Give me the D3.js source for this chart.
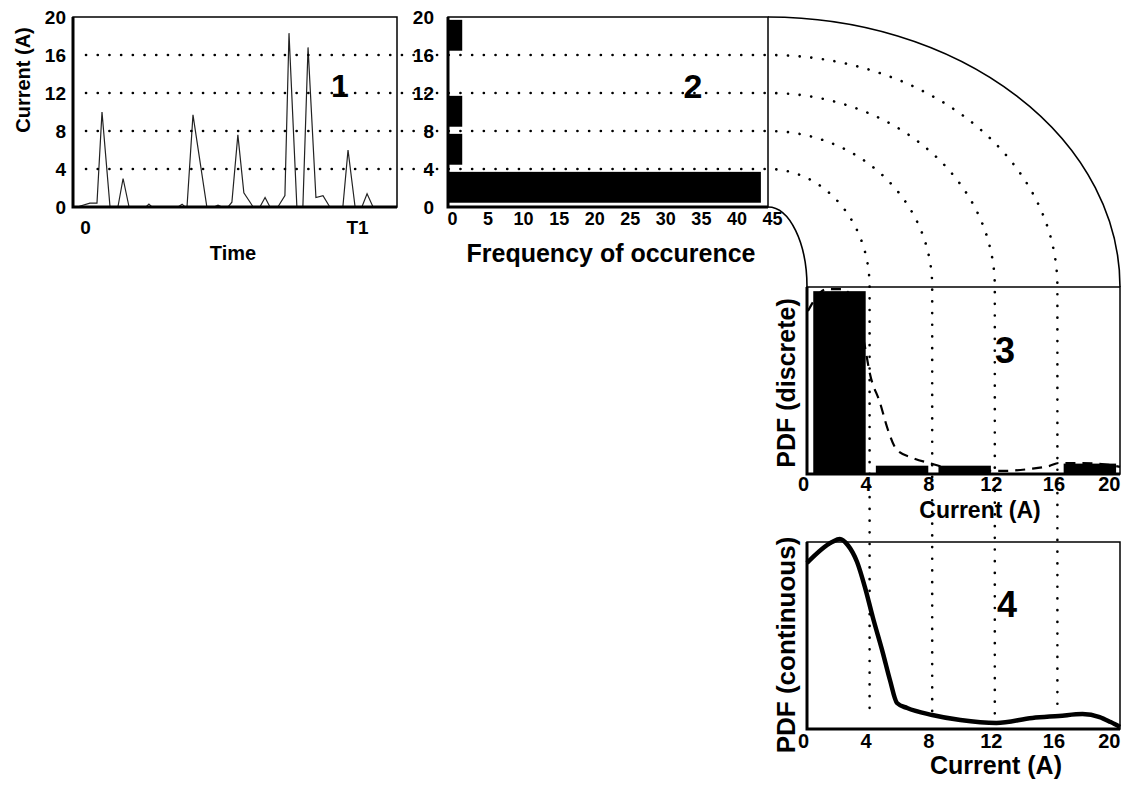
<!DOCTYPE html>
<html>
<head>
<meta charset="utf-8">
<script src="https://cdn.jsdelivr.net/npm/d3@7"></script>
<style>
  body { margin: 0; background: #fff; }
  svg { display: block; font-family: 'Liberation Sans', Arial, sans-serif; }
  .axis text { font-weight: bold; fill: #000; }
  .lbl { font-weight: bold; fill: #000; }
</style>
</head>
<body>
<svg width="1122" height="786"></svg>
<script>
// panel 1: current trace over time (T1 = 100)
const timeT = [-2.9, 1.8, 4.4, 6.25, 9.2, 12.1, 14.0, 16.2, 22.4, 23.5, 24.6, 34.2, 35.7, 36.8, 37.5,
  39.7, 44.8, 47.4, 48.9, 50.4, 52.6, 54.0, 56.2, 58.4, 60.7, 61.8, 64.3, 66.2, 68.0, 70.9, 73.5,
  75.0, 77.9, 80.1, 82.0, 84.9, 87.5, 90.0, 94.8, 96.7, 99.3, 101.8, 103.7, 105.9, 114]
const currentA = [0, 0.4, 0.4, 10, 0, 0, 3, 0, 0, 0.3, 0, 0, 0.3, 0, 0,
  9.7, 0, 0, 0.2, 0, 0, 0.5, 7.6, 1.5, 0.5, 0, 0, 1, 0, 0, 1.2,
  18.3, 0, 0, 16.8, 1, 1.2, 0, 0, 6, 0, 0, 1.4, 0, 0]

const currentTicks = [0, 4, 8, 12, 16, 20]
const gridLevels = [4, 8, 12, 16]
const freqTicks = [0, 5, 10, 15, 20, 25, 30, 35, 40, 45]

// panel 2 / 3: histogram bins
const binStart = [0, 4, 8, 12, 16]
const binCounts = [44, 2, 2, 0, 2]
const pdfDiscrete = [0.88, 0.04, 0.04, 0, 0.05]

// panel 3 dashed fit
const dashX = [0.06, 0.38, 1.28, 2.3, 3.0, 3.7, 4.0, 4.66, 5.17, 5.74, 6.76, 8.04, 8.7, 12.5, 14.2, 15.5, 16.1, 17.6, 19.3, 20]
const dashPdf = [0.784, 0.827, 0.89, 0.89, 0.82, 0.614, 0.489, 0.344, 0.213, 0.116, 0.077, 0.048, 0.034, 0.015, 0.024, 0.039, 0.053, 0.053, 0.044, 0.034]

// panel 4 continuous pdf
const contX = [0, 1.6, 2.1, 2.6, 3.2, 3.7, 4.2, 4.85, 5.3, 5.75, 6.4, 8.0, 9.8, 12.1, 14.4, 16.1, 17.6, 18.7, 19.4, 20]
const contPdf = [0.888, 1.0, 1.016, 0.984, 0.893, 0.759, 0.599, 0.406, 0.262, 0.139, 0.112, 0.075, 0.048, 0.032, 0.059, 0.07, 0.08, 0.064, 0.037, 0.011]

const svg = d3.select('svg')

const bend = { x: 768, y: 287 }
const p1 = { left: 73, right: 397, top: 17, bottom: 207 }
const p2 = { left: 448, right: 768, top: 17, bottom: 207 }
const p3 = { left: 807, right: 1120, top: 287, bottom: 474 }
const p4 = { left: 807, right: 1120, top: 542, bottom: 729 }
const dotEnd = 714

const yCur = d3.scaleLinear().domain([0, 20]).range([p1.bottom, p1.top])
const xTime = d3.scaleLinear().domain([0, 100]).range([85, 357])
const xFreq = d3.scaleLinear().domain([0, 45]).range([p2.left, p2.right])
const xCur = d3.scaleLinear().domain([0, 20]).range([p3.left, p3.right])
const yPdf3 = d3.scaleLinear().domain([0, 0.9]).range([p3.bottom, p3.top])
const yPdf4 = d3.scaleLinear().domain([0, 1]).range([p4.bottom, p4.top])

function box(p) {
  svg.append('rect').attr('x', p.left).attr('y', p.top)
    .attr('width', p.right - p.left).attr('height', p.bottom - p.top)
    .attr('fill', 'none').attr('stroke', '#000').attr('stroke-width', 1.5)
  svg.append('path')
    .attr('d', `M${p.left},${p.top}V${p.bottom}H${p.right}`)
    .attr('fill', 'none').attr('stroke', '#000').attr('stroke-width', 3)
}

// panel 1 trace
svg.append('path')
  .datum(timeT.map((t, i) => [t, currentA[i]]))
  .attr('d', d3.line().x(d => xTime(d[0])).y(d => yCur(d[1])))
  .attr('fill', 'none').attr('stroke', '#222').attr('stroke-width', 1.2)

// panel 2 bars
svg.append('g').selectAll('rect').data(binStart).enter().append('rect')
  .attr('x', xFreq(0))
  .attr('y', d => yCur(d + 3.7))
  .attr('width', (d, i) => xFreq(binCounts[i]) - xFreq(0))
  .attr('height', d => yCur(d + 0.45) - yCur(d + 3.7))
  .attr('fill', '#000')

// panel 3 dashed fit then bars
svg.append('path')
  .datum(dashX.map((x, i) => [x, dashPdf[i]]))
  .attr('d', d3.line().x(d => xCur(d[0])).y(d => yPdf3(d[1])).curve(d3.curveMonotoneX))
  .attr('fill', 'none').attr('stroke', '#000').attr('stroke-width', 2.2)
  .attr('stroke-dasharray', '10 7')

svg.append('g').selectAll('rect').data(binStart).enter().append('rect')
  .attr('x', d => xCur(d + 0.4))
  .attr('y', (d, i) => yPdf3(pdfDiscrete[i]))
  .attr('width', d => xCur(d + 3.75) - xCur(d + 0.4))
  .attr('height', (d, i) => p3.bottom - yPdf3(pdfDiscrete[i]))
  .attr('fill', '#000')

// panel 4 curve
svg.append('path')
  .datum(contX.map((x, i) => [x, contPdf[i]]))
  .attr('d', d3.line().x(d => xCur(d[0])).y(d => yPdf4(d[1])).curve(d3.curveMonotoneX))
  .attr('fill', 'none').attr('stroke', '#000').attr('stroke-width', 4.5)

box(p1)
box(p2)
box(p3)
box(p4)

// bent gridlines: horizontal in 1-2, quarter ellipse, vertical in 3-4
svg.append('g').selectAll('path').data(gridLevels).enter().append('path')
  .attr('d', v => {
    const y = yCur(v), x = xCur(v)
    return `M86,${y}H${bend.x}A${x - bend.x},${bend.y - y} 0 0 1 ${x},${bend.y}V${dotEnd}`
  })
  .attr('fill', 'none').attr('stroke', '#000').attr('stroke-width', 2.6)
  .attr('stroke-linecap', 'round').attr('stroke-dasharray', '0.1 11.6')

// outer and inner bend outlines
svg.append('g').selectAll('path').data([20, 0]).enter().append('path')
  .attr('d', v => {
    const y = yCur(v), x = xCur(v)
    return `M${bend.x},${y}A${x - bend.x},${bend.y - y} 0 0 1 ${x},${bend.y}`
  })
  .attr('fill', 'none').attr('stroke', '#000').attr('stroke-width', 1.6)

// axes
function clean(g) {
  g.select('.domain').remove()
  g.attr('class', 'axis').attr('font-family', null)
}

svg.append('g').attr('transform', `translate(${p1.left},0)`)
  .call(d3.axisLeft(yCur).tickValues(currentTicks).tickSize(0).tickPadding(7))
  .call(clean).selectAll('text').attr('font-size', 19)

svg.append('g').attr('transform', `translate(0,${p1.bottom})`)
  .call(d3.axisBottom(xTime).tickValues([0, 100]).tickFormat(d => d === 0 ? '0' : 'T1').tickSize(0).tickPadding(14))
  .call(clean).selectAll('text').attr('font-size', 19)

svg.append('g').attr('transform', `translate(${p2.left},0)`)
  .call(d3.axisLeft(yCur).tickValues(currentTicks).tickSize(0).tickPadding(14))
  .call(clean).selectAll('text').attr('font-size', 19)

svg.append('g').attr('transform', `translate(0,${p2.bottom})`)
  .call(d3.axisBottom(xFreq).tickValues(freqTicks).tickSize(0).tickPadding(5))
  .call(clean).selectAll('text').attr('font-size', 18).attr('dx', 4)

function currentAxis(y, pad) {
  svg.append('g').attr('transform', `translate(0,${y})`)
    .call(d3.axisBottom(xCur).tickValues(currentTicks).tickSize(0).tickPadding(pad))
    .call(clean).selectAll('text').attr('font-size', 20)
    .attr('dx', d => d === 20 ? 0 : -4)
    .attr('text-anchor', d => d === 20 ? 'end' : 'middle')
}
currentAxis(p3.bottom, 3)
currentAxis(p4.bottom, 5)

// titles
function label(text, x, y, size, rot, weight) {
  svg.append('text').attr('class', 'lbl')
    .attr('transform', `translate(${x},${y})` + (rot ? ' rotate(-90)' : ''))
    .attr('text-anchor', 'middle').attr('dy', '0.35em')
    .attr('font-size', size).attr('font-weight', weight || 'bold')
    .text(text)
}

label('Current (A)', 23, 80, 20, true)
label('Time', 233, 253, 20)
label('Frequency of occurence', 611, 253, 25)
label('PDF (discrete)', 786, 383, 25, true)
label('Current (A)', 980, 510, 23)
label('PDF (continuous)', 786, 645, 26, true)
label('Current (A)', 996, 765, 25)

label('1', 340, 86, 32)
label('2', 693, 86, 34, false, 'normal')
label('3', 1005, 350, 36, false, 'normal')
label('4', 1007, 604, 36)
</script>
</body>
</html>
